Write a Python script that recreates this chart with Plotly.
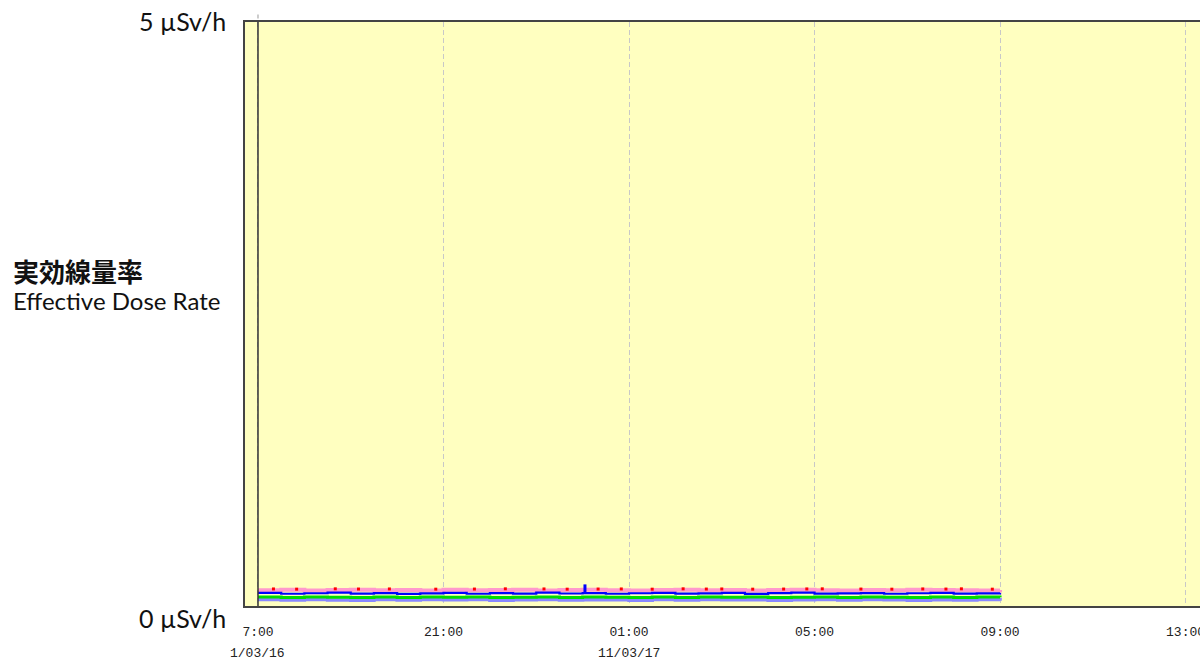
import plotly.graph_objects as go

# ---- data ----
times = ["2011-03-16 17:00", "2011-03-16 17:30", "2011-03-16 18:00", "2011-03-16 18:30",
         "2011-03-16 19:00", "2011-03-16 19:30", "2011-03-16 20:00", "2011-03-16 20:30",
         "2011-03-16 21:00", "2011-03-16 21:30", "2011-03-16 22:00", "2011-03-16 22:30",
         "2011-03-16 23:00", "2011-03-16 23:30", "2011-03-17 00:00", "2011-03-17 00:30",
         "2011-03-17 01:00", "2011-03-17 01:30", "2011-03-17 02:00", "2011-03-17 02:30",
         "2011-03-17 03:00", "2011-03-17 03:30", "2011-03-17 04:00", "2011-03-17 04:30",
         "2011-03-17 05:00", "2011-03-17 05:30", "2011-03-17 06:00", "2011-03-17 06:30",
         "2011-03-17 07:00", "2011-03-17 07:30", "2011-03-17 08:00", "2011-03-17 08:30",
         "2011-03-17 09:00"]

pink = [0.135, 0.139, 0.133, 0.137, 0.140, 0.134, 0.138, 0.133, 0.139, 0.135, 0.137,
        0.140, 0.133, 0.136, 0.139, 0.135, 0.133, 0.137, 0.140, 0.134, 0.136, 0.133,
        0.138, 0.140, 0.134, 0.133, 0.138, 0.135, 0.139, 0.137, 0.134, 0.133, 0.137]

blue = [0.112, 0.105, 0.109, 0.114, 0.106, 0.111, 0.104, 0.108, 0.113, 0.105, 0.110,
        0.106, 0.114, 0.107, 0.111, 0.105, 0.109, 0.113, 0.106, 0.108, 0.112, 0.104,
        0.110, 0.114, 0.106, 0.108, 0.111, 0.105, 0.109, 0.113, 0.106, 0.108, 0.112]

green = [0.078, 0.073, 0.077, 0.074, 0.072, 0.077, 0.073, 0.078, 0.075, 0.077, 0.072,
         0.075, 0.078, 0.073, 0.076, 0.075, 0.072, 0.077, 0.073, 0.078, 0.074, 0.076,
         0.072, 0.075, 0.078, 0.073, 0.077, 0.074, 0.072, 0.077, 0.073, 0.078, 0.075]

lavender = [0.055, 0.051, 0.056, 0.052, 0.050, 0.055, 0.051, 0.056, 0.053, 0.055, 0.050,
            0.053, 0.056, 0.051, 0.054, 0.053, 0.050, 0.055, 0.051, 0.056, 0.053, 0.054,
            0.050, 0.053, 0.056, 0.051, 0.055, 0.053, 0.050, 0.054, 0.051, 0.056, 0.045]

spike_times = ["2011-03-17 00:03", "2011-03-17 00:03"]
spike_vals = [0.108, 0.185]

red_times = ["2011-03-16 17:20", "2011-03-16 17:50", "2011-03-16 18:40", "2011-03-16 19:10",
             "2011-03-16 19:50", "2011-03-16 20:50", "2011-03-16 21:40", "2011-03-16 22:20",
             "2011-03-16 23:10", "2011-03-16 23:40", "2011-03-17 00:20", "2011-03-17 00:50",
             "2011-03-17 01:30", "2011-03-17 02:10", "2011-03-17 02:40", "2011-03-17 03:00",
             "2011-03-17 03:40", "2011-03-17 04:20", "2011-03-17 04:50", "2011-03-17 05:10",
             "2011-03-17 06:00", "2011-03-17 06:40", "2011-03-17 07:20", "2011-03-17 07:50",
             "2011-03-17 08:10", "2011-03-17 08:50"]
red_vals = [0.146, 0.144, 0.147, 0.145, 0.146, 0.144, 0.145, 0.147, 0.146, 0.144,
            0.145, 0.146, 0.144, 0.147, 0.145, 0.146, 0.144, 0.145, 0.146, 0.147,
            0.145, 0.144, 0.146, 0.145, 0.147, 0.144]

tick_vals = ["2011-03-16 17:00", "2011-03-16 21:00", "2011-03-17 01:00",
             "2011-03-17 05:00", "2011-03-17 09:00", "2011-03-17 13:00"]
tick_text = ["7:00", "21:00", "01:00", "05:00", "09:00", "13:00"]
date_vals = ["2011-03-16 17:00", "2011-03-17 01:00"]
date_text = ["1/03/16", "11/03/17"]

x_range = ["2011-03-16 16:43:12", "2011-03-17 13:18:40"]
y_range = [0, 5]

fig = go.Figure()
fig.add_trace(go.Scatter(x=times, y=lavender, mode="lines", line=dict(color="#8888ff", width=3.5, shape="hv"), showlegend=False))
fig.add_trace(go.Scatter(x=times, y=green, mode="lines", line=dict(color="#00dd00", width=3, shape="hv"), showlegend=False))
fig.add_trace(go.Scatter(x=times, y=pink, mode="lines", line=dict(color="#ff99cc", width=4, shape="hv"), showlegend=False))
fig.add_trace(go.Scatter(x=times, y=blue, mode="lines", line=dict(color="#0000ff", width=2.2, shape="hv"), showlegend=False))
fig.add_trace(go.Scatter(x=spike_times, y=spike_vals, mode="lines", line=dict(color="#0000ff", width=3), showlegend=False))
fig.add_trace(go.Scatter(x=red_times, y=red_vals, mode="markers",
                         marker=dict(color="#ff0000", size=3, symbol="square", line=dict(width=0)), showlegend=False))

# solid first vertical line & small tick above frame
fig.add_shape(type="line", xref="x", yref="paper", x0=tick_vals[0], x1=tick_vals[0], y0=0, y1=1,
              line=dict(color="#333333", width=1.5))
fig.add_shape(type="line", xref="x", yref="paper", x0=tick_vals[0], x1=tick_vals[0], y0=1.006, y1=1.013,
              line=dict(color="#bbbbbb", width=1.5))

for v, t in zip(date_vals, date_text):
    fig.add_annotation(x=v, xref="x", y=-0.0805, yref="paper", text=t, showarrow=False,
                       xanchor="center", yanchor="middle",
                       font=dict(family="Liberation Mono", size=13, color="#222222"))

label_font = dict(family="Lato", size=25, color="#111111")
fig.add_annotation(x=-0.0178, xref="paper", y=1.002, yref="paper", text="5 µSv/h", showarrow=False,
                   xanchor="right", yanchor="middle", font=label_font)
fig.add_annotation(x=-0.0178, xref="paper", y=-0.0205, yref="paper", text="0 µSv/h", showarrow=False,
                   xanchor="right", yanchor="middle", font=label_font)
fig.add_annotation(x=-0.2455, xref="paper", y=0.5753, yref="paper", text="<b>実効線量率</b>", showarrow=False,
                   xanchor="left", yanchor="middle",
                   font=dict(family="Noto Sans CJK JP", size=26, color="#111111"))
fig.add_annotation(x=-0.2455, xref="paper", y=0.5223, yref="paper", text="Effective Dose Rate", showarrow=False,
                   xanchor="left", yanchor="middle", font=dict(family="Lato", size=24, color="#111111"))

fig.update_layout(
    width=1200, height=662,
    margin=dict(l=245, r=0, t=22, b=56),
    paper_bgcolor="white", plot_bgcolor="#ffffc0",
    xaxis=dict(type="date", range=x_range, tickvals=tick_vals, ticktext=tick_text,
               showgrid=True, gridcolor="#c8c8c8", griddash="5px,3px", gridwidth=1,
               showline=True, linecolor="#444444", linewidth=2, mirror=True,
               ticks="outside", ticklen=12, tickcolor="rgba(0,0,0,0)",
               ticklabeloverflow="allow",
               tickfont=dict(family="Liberation Mono", size=13, color="#222222"),
               zeroline=False, automargin=False),
    yaxis=dict(range=y_range, showticklabels=False, showgrid=False, zeroline=False,
               showline=True, linecolor="#444444", linewidth=2, ticks="", automargin=False),
)

fig.write_html("out.html", config={"displayModeBar": False},
               post_script="document.body.style.margin='0';document.body.style.overflow='hidden';")
